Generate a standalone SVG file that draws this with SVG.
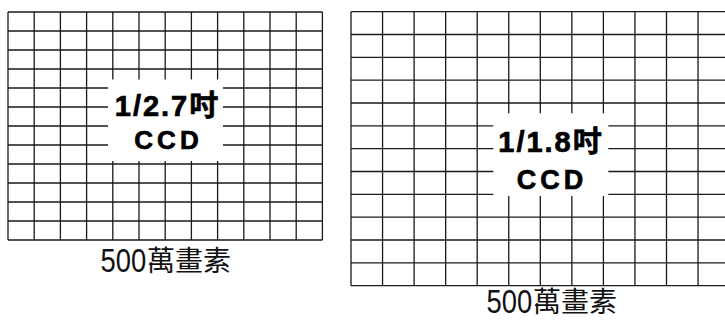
<svg xmlns="http://www.w3.org/2000/svg" width="725" height="320" viewBox="0 0 725 320">
<style>
.grid{fill:none;stroke:#1a1a1a;stroke-width:1.3}
.clear{fill:#fff;stroke:none}
.big{font-family:"Liberation Sans","Noto Sans CJK TC",sans-serif;font-weight:bold;fill:#000;stroke:#000;stroke-width:0.7}
.num{font-family:"Liberation Sans",sans-serif;font-size:33px;fill:#111}
.cjk{font-family:"Noto Sans CJK TC","Liberation Sans",sans-serif;font-size:28px;fill:#111}
</style>
<rect width="725" height="320" fill="#fff"/>
<g id="ccd-1-2-7">
<path class="grid" d="M8,12V240M34.2,12V240M60.4,12V240M86.6,12V240M112.8,12V240M139,12V240M165.2,12V240M191.4,12V240M217.6,12V240M243.8,12V240M270,12V240M296.2,12V240M322.4,12V240M8,12H322.4M8,31H322.4M8,50H322.4M8,69H322.4M8,88H322.4M8,107H322.4M8,126H322.4M8,145H322.4M8,164H322.4M8,183H322.4M8,202H322.4M8,221H322.4M8,240H322.4"/>
<rect class="clear" x="108" y="79.5" width="115" height="81.5"/>
<text class="big" x="167.5" y="115.5" font-size="29" text-anchor="middle" letter-spacing="2">1/2.7吋</text>
<text class="big" x="168.5" y="148.5" font-size="26" text-anchor="middle" letter-spacing="4">CCD</text>
<text class="num" transform="translate(100.5,271.5) scale(0.83,1)">500</text>
<text class="cjk" x="147" y="271">萬畫素</text>
</g>
<g id="ccd-1-1-8">
<path class="grid" d="M351,11.7V285.7M382.55,11.7V285.7M414.1,11.7V285.7M445.65,11.7V285.7M477.2,11.7V285.7M508.75,11.7V285.7M540.3,11.7V285.7M571.85,11.7V285.7M603.4,11.7V285.7M634.95,11.7V285.7M666.5,11.7V285.7M698.05,11.7V285.7M351,11.7H726M351,34.5H726M351,57.4H726M351,80.2H726M351,103H726M351,125.9H726M351,148.7H726M351,171.5H726M351,194.3H726M351,217.2H726M351,240H726M351,262.8H726M351,285.7H726"/>
<rect class="clear" x="493.3" y="113.3" width="115" height="82.7"/>
<text class="big" x="551" y="152" font-size="29" text-anchor="middle" letter-spacing="2">1/1.8吋</text>
<text class="big" x="552" y="188.5" font-size="27" text-anchor="middle" letter-spacing="4">CCD</text>
<text class="num" transform="translate(486.5,312.5) scale(0.83,1)">500</text>
<text class="cjk" x="533" y="312">萬畫素</text>
</g>
<g id="connectors"/>
</svg>
